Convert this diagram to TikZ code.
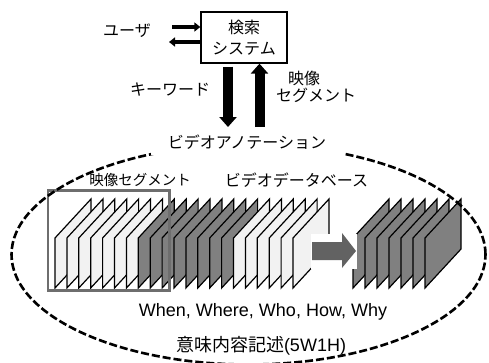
\documentclass[tikz,border=0pt]{standalone}
\usepackage{fontspec}
\setmainfont{Liberation Sans}
\newfontfamily\jp{Noto Sans CJK JP}
\usetikzlibrary{arrows.meta}
\definecolor{lightfr}{HTML}{F2F2F2}
\definecolor{darkfr}{HTML}{808080}
\definecolor{segrect}{HTML}{6E6E6E}
\definecolor{bigarr}{HTML}{626262}
\begin{document}
\begin{tikzpicture}[x=1pt,y=-1pt,
  jtext/.style={font=\jp\fontsize{16}{21}\selectfont, inner sep=0pt},
  ltext/.style={font=\fontsize{18}{21}\selectfont, inner sep=0pt},
  frameL/.style={draw=black, line width=1.2pt, fill=lightfr, line join=miter},
  frameD/.style={draw=black, line width=1.2pt, fill=darkfr, line join=miter},
  bigarrow/.style={line width=10pt, -{Triangle[width=17pt,length=10pt]}},
  userarrow/.style={line width=3.5pt, -{Triangle[width=9pt,length=6pt]}},
  sysbox/.style={draw=black, line width=1.3pt, minimum width=86pt, minimum height=51pt, inner sep=0pt, align=center},
  annot/.style={dash pattern=on 8pt off 3pt, line width=2.6pt}
]
\useasboundingbox (0,0) rectangle (489,362);

% ---- top: search system ----
\node[sysbox, jtext] (sys) at (244,37.5) {検索\\システム};
\node[jtext] (user) at (127,31) {ユーザ};
\coordinate (uin) at (172,27);
\coordinate (uout) at (169,42);
\draw[userarrow] (uin) -- (uin -| sys.west);
\draw[userarrow] (uout -| sys.west) -- (uout);

\coordinate (kwend) at (228,127);
\coordinate (segstart) at (259.5,127);
\draw[bigarrow] ([yshift=-3pt]sys.south -| kwend) -- (kwend);
\draw[bigarrow] (segstart) -- (sys.south -| segstart);
\node[jtext] (kw) at (170,90) {キーワード};
\node[jtext] (seg1) at (304,78) {映像};
\node[jtext] (seg2) at (316,95) {セグメント};

% ---- frames: first group ----
\foreach \k in {0,...,6} {
  \pgfmathsetmacro\xx{55+11.9*\k}
  \draw[frameL] (\xx,288) -- (\xx,238) -- (\xx+36,199) -- (\xx+36,249) -- cycle;
}
\foreach \k in {7,...,14} {
  \pgfmathsetmacro\xx{55+11.9*\k}
  \draw[frameD] (\xx,288) -- (\xx,238) -- (\xx+36,199) -- (\xx+36,249) -- cycle;
}
\foreach \k in {15,...,20} {
  \pgfmathsetmacro\xx{55+11.9*\k}
  \draw[frameL] (\xx,288) -- (\xx,238) -- (\xx+36,199) -- (\xx+36,249) -- cycle;
}
% second group
\foreach \k in {0,...,6} {
  \pgfmathsetmacro\xx{353+12*\k}
  \draw[frameD] (\xx,288) -- (\xx,238) -- (\xx+36,199) -- (\xx+36,249) -- cycle;
}
% segment rectangle
\draw[segrect, line width=2.8pt] (48,190.5) rectangle (169.5,290.5);

% conversion arrow
\fill[white] (311,234) rectangle (357,269);
\fill[bigarr] (312,242) -- (342,242) -- (342,233) -- (356,251) -- (342,268) -- (342,260) -- (312,260) -- cycle;

% annotation ellipse
\draw[annot] (248.5,254.5) ellipse [x radius=237pt, y radius=110pt];
\node[jtext, fill=white, inner xsep=17pt, inner ysep=5pt] (anno) at (247,142.5) {ビデオアノテーション};

\node[font=\jp\fontsize{14.5}{17}\selectfont, inner sep=0pt] (seglab) at (140,180) {映像セグメント};
\node[jtext] (dblab) at (296.5,180) {ビデオデータベース};

\node[ltext] (w5) at (263,311.5) {When, Where, Who, How, Why};
\node[ltext] (desc) at (261,346) {{\jp 意味内容記述}(5W1H)};
\end{tikzpicture}
\end{document}
